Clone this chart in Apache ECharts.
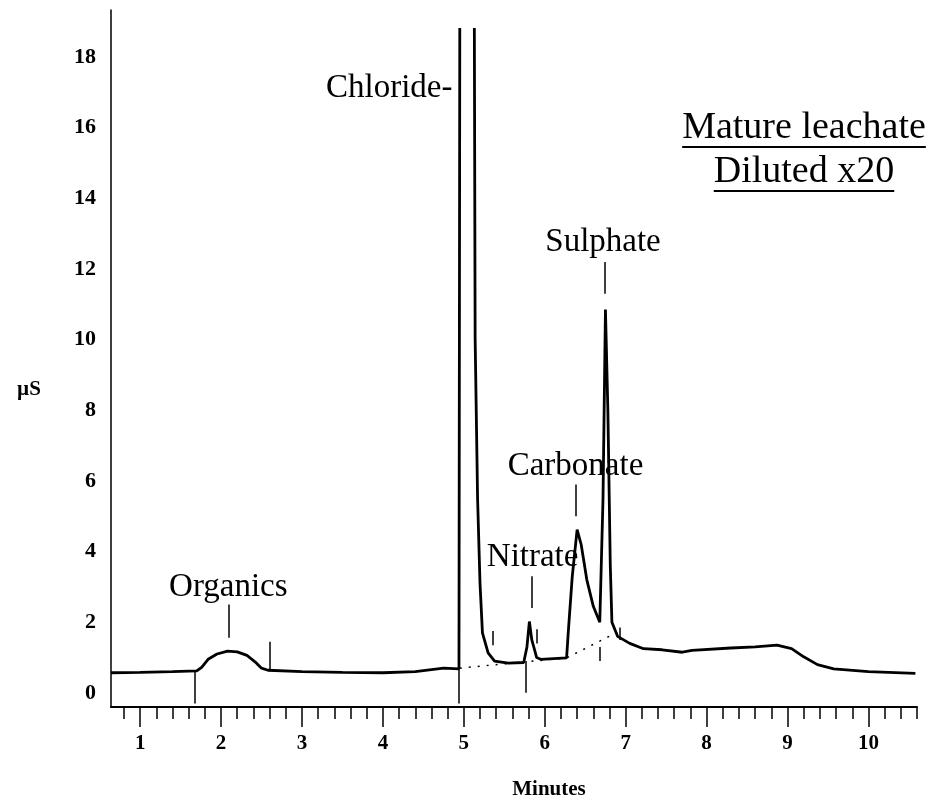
<!DOCTYPE html>
<html>
<head>
<meta charset="utf-8">
<script src="https://cdn.jsdelivr.net/npm/echarts@6/dist/echarts.min.js"></script>
<style>
  html, body { margin: 0; padding: 0; background: #fff; }
  #chart { width: 938px; height: 804px; }
</style>
</head>
<body>
<div id="chart"></div>
<script>
// retention time (minutes) and conductivity (uS), '-' breaks the off-scale chloride top
const timeMin = [0.64, 1.0, 1.4, 1.7, 1.76, 1.84, 1.95, 2.08, 2.2, 2.32, 2.42, 2.5, 2.58, 3.0, 3.5, 4.0, 4.4, 4.75, 4.94,
    4.95, 5.04, 5.13, 5.14, 5.17, 5.2, 5.23, 5.3, 5.38, 5.55, 5.74, 5.78, 5.81, 5.84, 5.87, 5.9, 5.95, 6.27,
    6.29, 6.34, 6.40, 6.45, 6.52, 6.6, 6.68, 6.72, 6.75, 6.78, 6.81, 6.83, 6.9, 7.05, 7.22, 7.45, 7.7, 7.82,
    8.3, 8.6, 8.87, 9.05, 9.2, 9.37, 9.57, 10.0, 10.58];
const signal = [0.57, 0.58, 0.6, 0.62, 0.72, 0.95, 1.1, 1.18, 1.16, 1.06, 0.88, 0.7, 0.64, 0.6, 0.58, 0.57, 0.6, 0.7, 0.68,
    18.82, '-', 18.82, 10, 5.5, 3.1, 1.7, 1.13, 0.9, 0.84, 0.86, 1.3, 2.02, 1.5, 1.25, 1.0, 0.95, 0.99,
    1.7, 3.3, 4.62, 4.2, 3.2, 2.45, 2.0, 5.5, 10.85, 8.0, 3.6, 2.0, 1.6, 1.4, 1.25, 1.22, 1.15, 1.2,
    1.27, 1.3, 1.35, 1.25, 1.02, 0.8, 0.68, 0.6, 0.55];

// dotted integration baseline under the peaks
const baseTime = [4.95, 6.27, 6.9];
const baseSignal = [0.7, 0.99, 1.72];

// short vertical marks: x, from, to
const markTime = [1.68, 2.6, 4.94, 5.77, 5.36, 5.9, 6.68, 6.93, 2.09, 5.84, 6.38, 6.74];
const markFrom = [0.6, 0.64, 0.68, 0.9, 1.75, 1.8, 1.3, 1.85, 2.5, 3.3, 5.9, 12.2];
const markTo = [-0.3, 1.45, -0.3, 0.0, 1.35, 1.4, 0.9, 1.5, 1.56, 2.4, 5.0, 11.3];

// peak names and where they sit
const peakNames = ['Organics', 'Chloride-', 'Nitrate', 'Carbonate', 'Sulphate'];
const peakX = [2.09, 4.86, 5.85, 6.38, 6.72];
const peakY = [3.0, 17.12, 3.85, 6.4, 12.74];

const xTicks = [1, 2, 3, 4, 5, 6, 7, 8, 9, 10];
const xMinorTicks = [0.8, 1.2, 1.4, 1.6, 1.8, 2.2, 2.4, 2.6, 2.8, 3.2, 3.4, 3.6, 3.8, 4.2, 4.4, 4.6, 4.8,
    5.2, 5.4, 5.6, 5.8, 6.2, 6.4, 6.6, 6.8, 7.2, 7.4, 7.6, 7.8, 8.2, 8.4, 8.6, 8.8, 9.2, 9.4, 9.6, 9.8,
    10.2, 10.4, 10.6];
const yTicks = [0, 2, 4, 6, 8, 10, 12, 14, 16, 18];

const titleLines = ['Mature leachate', 'Diluted x20'];

const serif = '"Liberation Serif", "DejaVu Serif", serif';

const measure = (text, font)=>{
    const ctx = document.createElement('canvas').getContext('2d');
    ctx.font = font;
    return ctx.measureText(text).width;
}

const chart = echarts.init(document.getElementById('chart'), null, { renderer: 'canvas' });

const trace = timeMin.map((t, i)=>[t, signal[i]]);
const baseline = baseTime.map((t, i)=>[t, baseSignal[i]]);
const marks = markTime.map((t, i)=>({ coords: [[t, markFrom[i]], [t, markTo[i]]] }));
const names = peakNames.map((n, i)=>({
    value: [peakX[i], peakY[i]],
    label: { align: n == 'Chloride-' ? 'right' : 'center' }
}));

// title block, centred with underlines
const titleFont = '38px ' + serif;
const titleCx = 804;
const titleRows = [128, 172];
const titleGraphics = [];
titleLines.forEach((line, i)=>{
    const w = measure(line, titleFont);
    titleGraphics.push({
        type: 'text',
        x: titleCx,
        y: titleRows[i],
        style: {
            text: line,
            font: titleFont,
            fill: '#000',
            align: 'center',
            verticalAlign: 'middle'
        }
    });
    titleGraphics.push({
        type: 'line',
        shape: { x1: titleCx - w / 2, y1: titleRows[i] + 19, x2: titleCx + w / 2, y2: titleRows[i] + 19 },
        style: { stroke: '#000', lineWidth: 2 }
    });
});

chart.setOption({
    backgroundColor: '#fff',
    animation: false,
    grid: {
        left: 111,
        right: 21,
        top: 10,
        bottom: 97
    },
    xAxis: [
        {
            type: 'value',
            min: 0.64,
            max: 10.6,
            position: 'bottom',
            axisLine: {
                show: true,
                onZero: false,
                lineStyle: { color: '#000', width: 2 }
            },
            axisTick: {
                show: true,
                customValues: xTicks,
                length: 20,
                lineStyle: { color: '#000', width: 1.5 }
            },
            axisLabel: {
                customValues: xTicks,
                margin: 26,
                color: '#000',
                fontFamily: serif,
                fontWeight: 'bold',
                fontSize: 21
            },
            splitLine: { show: false }
        },
        {
            type: 'value',
            min: 0.64,
            max: 10.6,
            position: 'bottom',
            offset: 0,
            axisLine: { show: false, onZero: false },
            axisTick: {
                show: true,
                customValues: xMinorTicks,
                length: 12,
                lineStyle: { color: '#000', width: 1.5 }
            },
            axisLabel: { show: false },
            splitLine: { show: false }
        }
    ],
    yAxis: {
        type: 'value',
        min: -0.4,
        max: 19.33,
        axisLine: {
            show: true,
            onZero: false,
            lineStyle: { color: '#000', width: 1.5 }
        },
        axisTick: { show: false },
        axisLabel: {
            customValues: yTicks,
            margin: 15,
            color: '#000',
            fontFamily: serif,
            fontWeight: 'bold',
            fontSize: 22
        },
        splitLine: { show: false }
    },
    graphic: [
        ...titleGraphics,
        {
            type: 'text',
            x: 29,
            y: 390,
            style: {
                text: 'µS',
                font: 'bold 21px ' + serif,
                fill: '#000',
                align: 'center',
                verticalAlign: 'middle'
            }
        },
        {
            type: 'text',
            x: 549,
            y: 790,
            style: {
                text: 'Minutes',
                font: 'bold 21px ' + serif,
                fill: '#000',
                align: 'center',
                verticalAlign: 'middle'
            }
        }
    ],
    series: [
        {
            name: 'baseline',
            type: 'line',
            data: baseline,
            symbol: 'none',
            lineStyle: { color: '#000', width: 1.5, type: [2, 7] }
        },
        {
            name: 'marks',
            type: 'lines',
            coordinateSystem: 'cartesian2d',
            data: marks,
            lineStyle: { color: '#000', width: 1.5, opacity: 1 }
        },
        {
            name: 'trace',
            type: 'line',
            data: trace,
            symbol: 'none',
            connectNulls: false,
            lineStyle: { color: '#000', width: 2.8 }
        },
        {
            name: 'peaks',
            type: 'scatter',
            data: names,
            symbolSize: 0,
            itemStyle: { opacity: 1 },
            label: {
                show: true,
                position: 'inside',
                formatter: (p)=>peakNames[p.dataIndex],
                color: '#000',
                fontFamily: serif,
                fontSize: 33,
                verticalAlign: 'middle'
            }
        }
    ]
});
</script>
</body>
</html>
